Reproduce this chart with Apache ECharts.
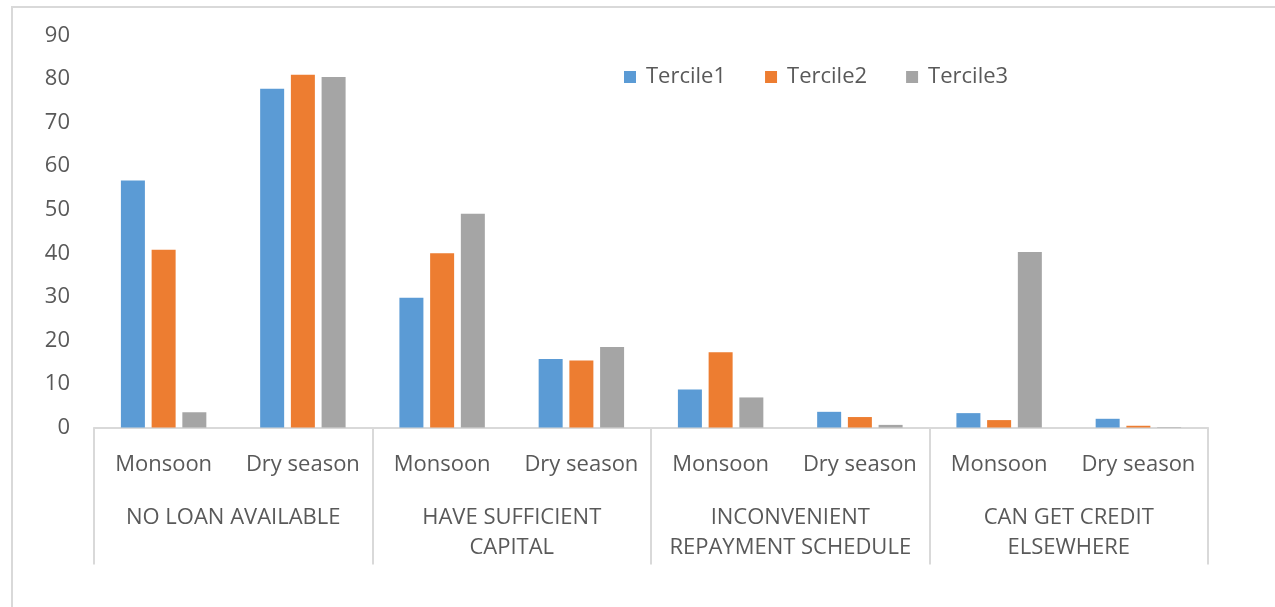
<!DOCTYPE html>
<html>
<head>
<meta charset="utf-8">
<script src="https://cdn.jsdelivr.net/npm/echarts@6/dist/echarts.min.js"></script>
<style>
  html, body { margin: 0; padding: 0; background: #fff; }
  .chart-frame {
    position: absolute;
    left: 11px;
    top: 6px;
    width: 1400px;
    height: 700px;
    border: 2px solid #d9d9d9;
    box-sizing: border-box;
  }
  #chart {
    position: absolute;
    left: 0;
    top: 0;
    width: 1275px;
    height: 607px;
  }
</style>
</head>
<body>
<div class="chart-frame"></div>
<div id="chart"></div>
<script>
// seasons inside each reason group
const seasons = ['Monsoon', 'Dry season', 'Monsoon', 'Dry season', 'Monsoon', 'Dry season', 'Monsoon', 'Dry season']
// reason groups (bottom level of the axis)
const reasons = ['NO LOAN AVAILABLE', 'HAVE SUFFICIENT\nCAPITAL', 'INCONVENIENT\nREPAYMENT SCHEDULE', 'CAN GET CREDIT\nELSEWHERE']

const tercile1 = [56.7, 77.8, 29.8, 15.7, 8.7, 3.6, 3.3, 2.0]
const tercile2 = [40.8, 81.0, 40.0, 15.4, 17.3, 2.4, 1.7, 0.4]
const tercile3 = [3.5, 80.5, 49.1, 18.5, 6.9, 0.6, 40.3, 0.1]

const yTicks = [0, 90, 10] // min, max, step

const textColor = '#595959'
const lineColor = '#d9d9d9'
const fontFamily = '"Open Sans", sans-serif'

const chart = echarts.init(document.getElementById('chart'))

const bar = (name, data, color) => ({
  name,
  type: 'bar',
  data,
  xAxisIndex: 0,
  barWidth: 24,
  barGap: '28%',
  itemStyle: { color },
  emphasis: { disabled: true }
})

chart.setOption({
  animation: false,
  textStyle: { fontFamily },
  legend: {
    left: 619,
    top: 61,
    itemWidth: 12,
    itemHeight: 12,
    itemGap: 39,
    icon: 'rect',
    textStyle: { color: textColor, fontSize: 22, fontFamily, padding: [0, 0, 0, 5] },
    data: ['Tercile1', 'Tercile2', 'Tercile3']
  },
  grid: {
    left: 94,
    right: 67,
    top: 35.5,
    bottom: 179.5,
    containLabel: false
  },
  xAxis: [
    {
      type: 'category',
      data: seasons,
      position: 'bottom',
      axisLine: { lineStyle: { color: lineColor, width: 2 } },
      axisTick: { show: false },
      axisLabel: {
        interval: 0,
        margin: 22,
        color: textColor,
        fontSize: 22,
        lineHeight: 30,
        fontFamily
      }
    },
    {
      type: 'category',
      data: reasons,
      position: 'bottom',
      axisLine: { show: false },
      axisTick: {
        show: true,
        interval: 0,
        length: 137,
        lineStyle: { color: lineColor, width: 2 }
      },
      axisLabel: {
        interval: 0,
        margin: 75,
        color: textColor,
        fontSize: 22,
        lineHeight: 30,
        fontFamily
      }
    }
  ],
  yAxis: {
    type: 'value',
    min: yTicks[0],
    max: yTicks[1],
    interval: yTicks[2],
    axisLine: { show: false },
    axisTick: { show: false },
    splitLine: { show: false },
    axisLabel: {
      margin: 24,
      color: textColor,
      fontSize: 22,
      padding: [3, 0, 0, 0],
      fontFamily
    }
  },
  series: [
    bar('Tercile1', tercile1, '#5b9bd5'),
    bar('Tercile2', tercile2, '#ed7d31'),
    bar('Tercile3', tercile3, '#a5a5a5')
  ]
})
</script>
</body>
</html>
